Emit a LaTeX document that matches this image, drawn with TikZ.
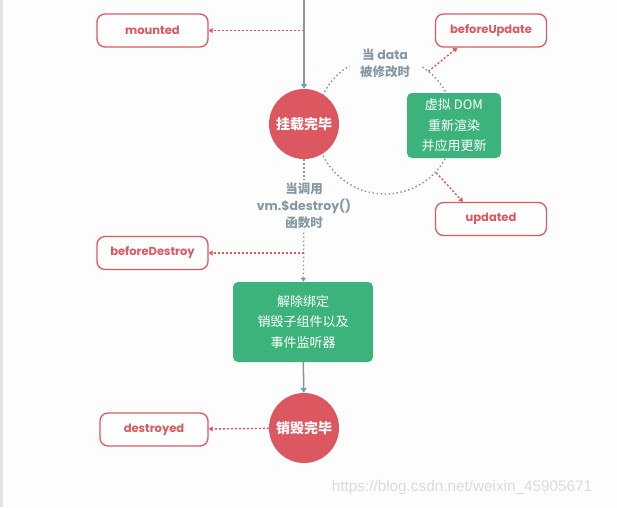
\documentclass[tikz,border=0pt]{standalone}
\usepackage{fontspec}
\setmainfont{Poppins}
\newfontfamily\lat{Poppins}
\newfontfamily\cjk{Noto Sans CJK SC}
\newfontfamily\wm{Liberation Sans}
\usetikzlibrary{arrows.meta,calc}
\definecolor{vred}{RGB}{219,88,96}
\definecolor{vgreen}{RGB}{61,179,124}
\definecolor{vgrey}{RGB}{134,151,163}
\definecolor{paper}{RGB}{253,253,253}
\definecolor{strip}{RGB}{226,226,226}
\tikzset{
	hook/.style={draw=vred,line width=1.3pt,rounded corners=8pt,fill=white,minimum width=111pt,minimum height=33pt,text=vred,font=\fontsize{11.5}{13}\selectfont\bfseries},
	stage/.style={circle,fill=vred,minimum size=70pt,inner sep=0pt,text=white,font=\cjk\fontsize{14}{16}\selectfont\bfseries},
	work/.style={fill=vgreen,rounded corners=5pt,text=white,align=center,font=\cjk\fontsize{13}{20.5}\selectfont},
	note/.style={text=vgrey,align=center,font=\cjk\fontsize{12.5}{17}\selectfont\bfseries},
	flow/.style={vgrey,line width=1.5pt,-{Triangle[width=6pt,length=5pt]}},
	hint/.style={vgrey,line width=1.4pt,dash pattern=on 1.5pt off 2.5pt},
	call/.style={vred,line width=1.4pt,dash pattern=on 2pt off 2pt,-{Triangle[width=5pt,length=4pt]}},
}
\begin{document}
\begin{tikzpicture}[x=1pt,y=-1pt]
	\fill[paper](0,0)rectangle(617,507);
	\fill[strip](0,0)rectangle(3,507);
	\useasboundingbox(0,0)rectangle(617,507);
	\coordinate(ring)at(385,125);
	\draw[hint]($(ring)+(-57:69)$)arc[start angle=-57,end angle=239,radius=69];
	\node[stage](mount)at(304,124){挂载完毕};
	\node[stage](destroy)at(304,428){销毁完毕};
	\node[hook](mounted)at(152.5,30.5){mounted};
	\node[hook](bupdate)at(491,30.5){beforeUpdate};
	\node[hook](updated)at(491,219){updated};
	\node[hook](bdestroy)at(152.5,253){beforeDestroy};
	\node[hook,minimum width=108pt](destroyed)at(154,429.5){destroyed};
	\node[work,minimum width=94pt,minimum height=65pt](render)at(454,125.5){虚拟 DOM\\重新渲染\\并应用更新};
	\node[work,minimum width=140pt,minimum height=80pt](teardown)at(303,322){解除绑定\\销毁子组件以及\\事件监听器};
	\node[note](change)at(385,63){当 {\lat data}\\被修改时};
	\node[note](callit)at(304,206){当调用\\{\lat vm.\$destroy()}\\函数时};
	\coordinate(top)at(304,0);
	\coordinate(m)at(304,30.5);
	\coordinate(bd)at(304,253);
	\coordinate(up)at($(ring)+(-51:69)$);
	\coordinate(down)at($(ring)+(43:70)$);
	\draw[flow](top)--(mount);
	\draw[call](m)--(mounted);
	\draw[hint](mount)--(callit);
	\draw[hint,-{Triangle[width=5pt,length=4pt]}](callit)--(teardown);
	\draw[call](bd)--(bdestroy);
	\draw[call](up)--($(bupdate.south west)!0.2!(bupdate.south east)$);
	\draw[call](down)--($(updated.north west)!0.25!(updated.north east)$);
	\draw[flow](teardown)--(destroy);
	\draw[call](destroy)--(destroyed);
	\node[text=black!14,font=\wm\fontsize{15.3}{17}\selectfont](mark)at(462,488){https://blog.csdn.net/weixin\_45905671};
\end{tikzpicture}
\end{document}
